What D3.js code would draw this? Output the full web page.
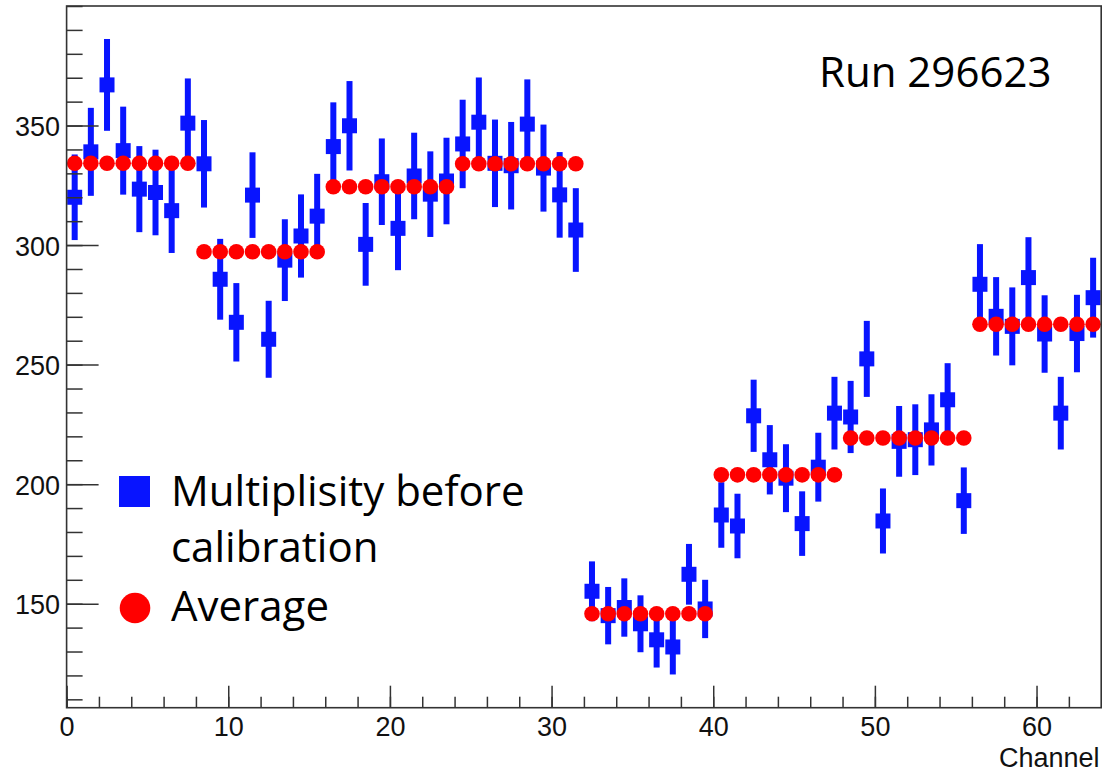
<!DOCTYPE html>
<html>
<head>
<meta charset="utf-8">
<script src="https://cdn.jsdelivr.net/npm/d3@7"></script>
<style>
  html, body { margin: 0; padding: 0; background: #fff; }
  svg { display: block; }
</style>
</head>
<body>
<svg id="chart" width="1105" height="775"></svg>
<script>
// ---------------- data ----------------
const channels = d3.range(64); // channel index 0..63, drawn at bin centre
const multiplicity = [
  320, 339, 367, 339.5, 323.4, 322, 314.4, 351,
  334, 285.7, 267.7, 320.9, 260.6, 293.7, 303.8, 312.1,
  341.2, 349.9, 300.3, 326.5, 307, 328.9, 321.3, 326.8,
  342.3, 351.4, 334.2, 333.2, 350.6, 332.2, 321, 306.3,
  155.2, 145, 148.4, 141.6, 134.9, 131.9, 162.3, 147.8,
  187.1, 182.5, 228.6, 210.2, 202.5, 183.5, 207.1, 229.7,
  228.1, 252.4, 184.6, 217.9, 218.6, 222.7, 235.3, 193.1,
  283.6, 270.2, 266, 286.4, 262.8, 229.7, 263, 278
];
const multiplicityErr = [
  17.9, 18.4, 19.2, 18.4, 18.0, 17.9, 17.7, 18.7,
  18.3, 16.9, 16.4, 17.9, 16.1, 17.1, 17.4, 17.7,
  18.5, 18.7, 17.3, 18.1, 17.5, 18.1, 17.9, 18.1,
  18.5, 18.7, 18.3, 18.3, 18.7, 18.2, 17.9, 17.5,
  12.5, 12.0, 12.2, 11.9, 11.6, 11.5, 12.7, 12.2,
  13.7, 13.5, 15.1, 14.5, 14.2, 13.5, 14.4, 15.2,
  15.1, 15.9, 13.6, 14.8, 14.8, 14.9, 15.3, 13.9,
  16.8, 16.4, 16.3, 16.9, 16.2, 15.2, 16.2, 16.7
];
// averages per group of 8 channels
const groupAverage = [334.2, 297.2, 324.4, 334.0, 145.8, 203.9, 219.3, 266.9];
const groupSize = 8;

const xMajorTicks = [0, 10, 20, 30, 40, 50, 60];
const yMajorTicks = [150, 200, 250, 300, 350];
const xTitle = "Channel";
const runLabel = "Run 296623";
const legendLabels = ["Multiplisity before", "calibration", "Average"];

// ---------------- layout ----------------
const svg = d3.select("#chart");
const pLeft = 66.6, pRight = 1101.2, pTop = 6, pBottom = 707.7;
const blue = "#0814ff", red = "#ff0000", axisColor = "#333";
const tickFont = "'Liberation Sans', Arial, Helvetica, sans-serif";
const textFont = "'Open Sans', 'Noto Sans', sans-serif";

const x = d3.scaleLinear().domain([0, 64]).range([pLeft, pRight]);
const y = d3.scaleLinear().domain([106.5, 400]).range([pBottom, pTop]);

// ---------------- blue points with error bars ----------------
const gData = svg.append("g");
gData.selectAll("rect.err").data(channels).join("rect")
  .attr("class", "err")
  .attr("x", i => x(i + 0.5) - 3)
  .attr("width", 6)
  .attr("y", i => y(multiplicity[i] + multiplicityErr[i]))
  .attr("height", i => y(multiplicity[i] - multiplicityErr[i]) - y(multiplicity[i] + multiplicityErr[i]))
  .attr("fill", blue);
gData.selectAll("rect.mk").data(channels).join("rect")
  .attr("class", "mk")
  .attr("x", i => x(i + 0.5) - 7.5)
  .attr("y", i => y(multiplicity[i]) - 7.5)
  .attr("width", 15).attr("height", 15)
  .attr("fill", blue);

// ---------------- red averages ----------------
svg.append("g").selectAll("circle").data(channels).join("circle")
  .attr("cx", i => x(i + 0.5))
  .attr("cy", i => y(groupAverage[Math.floor(i / groupSize)]))
  .attr("r", 7.8)
  .attr("fill", red);

// ---------------- axes ----------------
const gx = svg.append("g").attr("transform", `translate(0,${pBottom})`);
gx.append("g").call(d3.axisBottom(x).tickValues(d3.range(0, 64, 2)).tickSize(-11).tickSizeOuter(0).tickFormat(""))
  .call(g => g.select(".domain").remove());
gx.append("g").call(d3.axisBottom(x).tickValues(xMajorTicks).tickSize(-22).tickSizeOuter(0).tickFormat(d3.format("d")))
  .call(g => g.select(".domain").remove())
  .call(g => g.selectAll("text").attr("y", 28.5).attr("dy", null)
      .attr("font-size", 27).attr("font-family", tickFont).attr("fill", "#111"));

const gy = svg.append("g").attr("transform", `translate(${pLeft},0)`);
gy.append("g").call(d3.axisLeft(y).tickValues(d3.range(110, 401, 10)).tickSize(-16).tickSizeOuter(0).tickFormat(""))
  .call(g => g.select(".domain").remove());
gy.append("g").call(d3.axisLeft(y).tickValues(yMajorTicks).tickSize(-32).tickSizeOuter(0).tickPadding(6.6).tickFormat(d3.format("d")))
  .call(g => g.select(".domain").remove())
  .call(g => g.selectAll("text").attr("dy", "0.38em")
      .attr("font-size", 27).attr("font-family", tickFont).attr("fill", "#111"));

svg.selectAll(".tick line").attr("stroke", axisColor).attr("stroke-width", 1.5);

// frame
svg.append("rect")
  .attr("x", pLeft).attr("y", pTop)
  .attr("width", pRight - pLeft).attr("height", pBottom - pTop)
  .attr("fill", "none").attr("stroke", axisColor).attr("stroke-width", 1.6);

// axis title
svg.append("text")
  .attr("x", 1099.5).attr("y", 766.5)
  .attr("text-anchor", "end")
  .attr("font-family", tickFont).attr("font-size", 27).attr("fill", "#111")
  .text(xTitle);

// run label
svg.append("text")
  .attr("x", 819).attr("y", 87)
  .attr("font-family", textFont).attr("font-size", 42).attr("fill", "#000")
  .text(runLabel);

// ---------------- legend ----------------
const lg = svg.append("g");
lg.append("rect").attr("x", 119).attr("y", 476).attr("width", 31).attr("height", 31).attr("fill", blue);
lg.append("circle").attr("cx", 135).attr("cy", 608).attr("r", 15.3).attr("fill", red);
const legendBaselines = [506, 561.7, 620.7];
lg.selectAll("text").data(legendLabels).join("text")
  .attr("x", 171)
  .attr("y", (d, i) => legendBaselines[i])
  .attr("font-family", textFont).attr("font-size", 42).attr("fill", "#000")
  .text(d => d);
</script>
</body>
</html>
